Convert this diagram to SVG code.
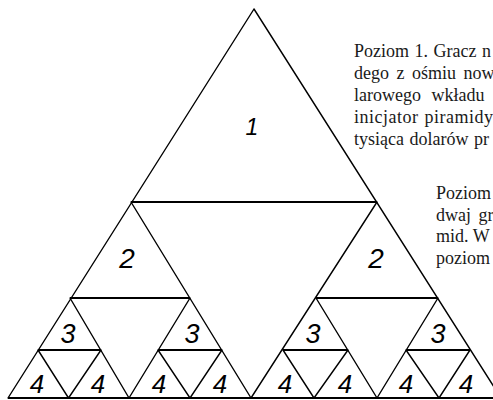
<svg xmlns="http://www.w3.org/2000/svg" width="493" height="400" viewBox="0 0 493 400">
<style>
.ln{stroke:#000;stroke-width:1.4;fill:none;stroke-linecap:round}
.hz{stroke:#000;stroke-width:2;fill:none}
.num{font-family:"Liberation Sans","DejaVu Sans",sans-serif;font-style:italic;fill:#000;text-anchor:middle}
.txt{font-family:"Liberation Serif","DejaVu Serif",serif;font-size:18px;fill:#1a1a1a}
</style>
<rect width="493" height="400" fill="#fff"/>
<g id="connectors">
<path class="ln" d="M254,9 L8,398 M254,9 L501,398"/>
<path class="hz" d="M131,202 H377"/>
<path class="ln" d="M131,202 L251,398 M377,202 L251,398"/>
<path class="hz" d="M70,298 H190 M316,298 H438"/>
<path class="ln" d="M70,298 L129,398 M190,298 L129,398 M316,298 L377,398 M438,298 L377,398"/>
<path class="hz" d="M38,350 H101 M158,350 H222 M283,350 H348 M406,350 H470"/>
<path class="ln" d="M38,350 L68.5,398 M101,350 L68.5,398 M158,350 L190,398 M222,350 L190,398 M283,350 L314,398 M348,350 L314,398 M406,350 L439,398 M470,350 L439,398"/>
<path class="hz" d="M8,398 H501"/>
</g>
<g id="n1"><text class="num" x="252" y="135" font-size="23" font-style="normal">1</text></g>
<g id="n2a"><text class="num" x="127" y="268" font-size="28">2</text></g>
<g id="n2b"><text class="num" x="376" y="268" font-size="28">2</text></g>
<g id="n3a"><text class="num" x="68" y="343" font-size="27">3</text></g>
<g id="n3b"><text class="num" x="192" y="343" font-size="27">3</text></g>
<g id="n3c"><text class="num" x="313" y="343" font-size="27">3</text></g>
<g id="n3d"><text class="num" x="438" y="343" font-size="27">3</text></g>
<g id="n4a"><text class="num" x="37" y="393" font-size="26">4</text></g>
<g id="n4b"><text class="num" x="98" y="393" font-size="26">4</text></g>
<g id="n4c"><text class="num" x="159" y="393" font-size="26">4</text></g>
<g id="n4d"><text class="num" x="220" y="393" font-size="26">4</text></g>
<g id="n4e"><text class="num" x="285" y="393" font-size="26">4</text></g>
<g id="n4f"><text class="num" x="345" y="393" font-size="26">4</text></g>
<g id="n4g"><text class="num" x="406" y="393" font-size="26">4</text></g>
<g id="n4h"><text class="num" x="466" y="393" font-size="26">4</text></g>
<g id="text1">
<text class="txt" x="354" y="57" word-spacing="1">Poziom 1. Gracz n</text>
<text class="txt" x="354" y="79" word-spacing="3">dego z ośmiu now</text>
<text class="txt" x="354" y="101" word-spacing="6">larowego wkładu</text>
<text class="txt" x="354" y="123" letter-spacing="0.5" word-spacing="1">inicjator piramidy</text>
<text class="txt" x="354" y="145" word-spacing="1">tysiąca dolarów pr</text>
</g>
<g id="text2">
<text class="txt" x="436" y="199">Poziom</text>
<text class="txt" x="436" y="220.5" word-spacing="3">dwaj gr</text>
<text class="txt" x="436" y="242">mid. W</text>
<text class="txt" x="436" y="263.5">poziom</text>
</g>
</svg>
